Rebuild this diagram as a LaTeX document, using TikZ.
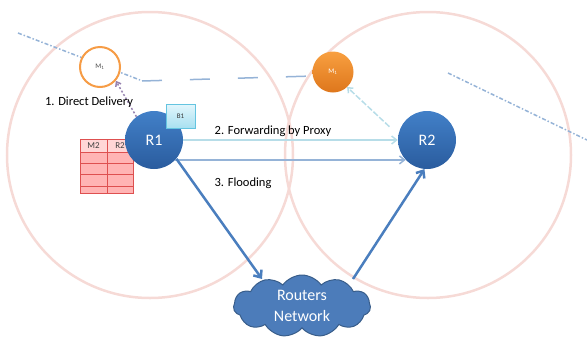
\documentclass[tikz,border=0pt]{standalone}
\usepackage{fontspec}
\setmainfont{Carlito}
\usetikzlibrary{shapes.symbols,arrows.meta,calc}
\definecolor{rangepink}{RGB}{246,218,214}
\definecolor{routertop}{RGB}{66,128,200}
\definecolor{routerbot}{RGB}{42,92,158}
\definecolor{orangetop}{RGB}{248,160,64}
\definecolor{orangebot}{RGB}{222,118,28}
\definecolor{orangering}{RGB}{246,156,70}
\definecolor{trajblue}{RGB}{149,179,215}
\definecolor{proxycyan}{RGB}{183,221,232}
\definecolor{floodblue}{RGB}{149,179,215}
\definecolor{netblue}{RGB}{74,126,190}
\definecolor{cloudfill}{RGB}{76,124,186}
\definecolor{cloudedge}{RGB}{56,93,138}
\definecolor{directpurple}{RGB}{150,130,175}
\definecolor{tablefill}{RGB}{255,180,180}
\definecolor{tablehead}{RGB}{255,214,214}
\definecolor{tableline}{RGB}{222,80,80}
\definecolor{boxtop}{RGB}{226,246,252}
\definecolor{boxbot}{RGB}{168,224,240}
\definecolor{boxedge}{RGB}{100,196,224}
\begin{document}
\begin{tikzpicture}[x=1pt,y=-1pt,
  rangecircle/.style={circle,draw=rangepink,line width=2.5pt,minimum size=286pt,inner sep=0pt},
  router/.style={circle,minimum size=58pt,inner sep=0pt,top color=routertop,bottom color=routerbot,
     text=white,font=\fontsize{16}{18}\selectfont},
  mring/.style={circle,minimum size=40pt,inner sep=0pt,draw=orangering,line width=2pt,fill=white,
     text=black!70,font=\fontsize{7}{8}\selectfont},
  mfull/.style={circle,minimum size=41pt,inner sep=0pt,top color=orangetop,bottom color=orangebot,
     text=white,font=\fontsize{7}{8}\selectfont},
  bbox/.style={rectangle,minimum width=29pt,minimum height=24pt,inner sep=0pt,top color=boxtop,
     bottom color=boxbot,draw=boxedge,line width=0.6pt,text=black!80,font=\fontsize{7}{8}\selectfont},
  netcloud/.style={cloud,cloud puffs=11,cloud puff arc=110,aspect=2.3,minimum width=137pt,minimum height=62pt,
     fill=cloudfill,draw=cloudedge,line width=1pt,text=white,align=center,inner sep=1pt,
     font=\fontsize{16}{21}\selectfont},
  lbl/.style={font=\fontsize{12.5}{14}\selectfont,text=black,inner sep=0pt},
  traj/.style={trajblue,line width=1.5pt},
  proxyarrow/.style={proxycyan,line width=1.5pt,-{Straight Barb[length=5pt,width=8pt]}},
  floodarrow/.style={floodblue,line width=1.5pt,-{Straight Barb[length=5pt,width=8pt]}},
  netarrow/.style={netblue,line width=2.5pt,-{Straight Barb[length=6pt,width=10pt]}},
  directarrow/.style={directpurple,line width=1.5pt,dash pattern=on 2pt off 2pt,-{Straight Barb[length=4pt,width=6pt]}},
  movearrow/.style={proxycyan,line width=1.5pt,dash pattern=on 6pt off 2pt,-{Straight Barb[length=4pt,width=7pt]}},
  tcell/.style={inner sep=0pt,text=black!75,font=\fontsize{9}{10}\selectfont}
]
\useasboundingbox (0,0) rectangle (587,341);

% radio ranges
\node[rangecircle] (rangeL) at (150,155) {};
\node[rangecircle] (rangeR) at (428,155) {};

% trajectory of the mobile node
\coordinate (t0) at (18,33);
\coordinate (t1) at (140,80);
\coordinate (t2) at (142,81);
\coordinate (t3) at (313,76);
\coordinate (t4) at (448,73);
\coordinate (t5) at (587,140);
\draw[traj,dash pattern=on 4pt off 2pt on 1.5pt off 2pt] (t0) -- (t1);
\draw[traj,dash pattern=on 20pt off 28pt] (t2) -- (t3);
\draw[traj,dash pattern=on 4pt off 2pt on 1.5pt off 2pt] (t4) -- (t5);

% table
\fill[tablehead] (80,139) rectangle (133,152);
\fill[tablefill] (80,152) rectangle (133,193);
\draw[tableline,line width=0.5pt] (80,139) rectangle (133,193);
\draw[tableline,line width=1pt] (107,139) -- (107,193);
\foreach \yy in {152,163,174,186} \draw[tableline,line width=1pt] (80,\yy) -- (133,\yy);
\node[tcell] (tM2) at (93.5,145.5) {M2};
\node[tcell] (tR2) at (120,145.5) {R2};

% nodes
\node[router] (R1) at (154,140) {R1};
\node[router] (R2) at (427,140) {R2};
\node[bbox] (B1) at (180.5,116) {B1};
\node[mring] (Ma) at (100,67) {M\textsubscript{1}};
\node[mfull] (Mb) at (333,72) {M\textsubscript{1}};
\node[netcloud] (net) at (302,306) {Routers\\Network};
\coordinate (netin) at (262,279);
\coordinate (netout) at (353,279);

% connectors
\draw[directarrow] (R1.127) -- (Ma.-41);
\draw[movearrow,shorten <=12pt] (R2.170) -- (Mb.-47);
\draw[proxyarrow] (R1.east) -- (R2.west);
\draw[floodarrow] (R1.-43) -- (R2.-137);
\draw[netarrow] (R1.-40) -- (netin);
\draw[netarrow] (netout) -- (R2.265);

% labels
\node[lbl] (l1) at (89,102) {1. Direct Delivery};
\node[lbl] (l2) at (273,131) {2. Forwarding by Proxy};
\node[lbl] (l3) at (243,183) {3. Flooding};
\end{tikzpicture}
\end{document}
